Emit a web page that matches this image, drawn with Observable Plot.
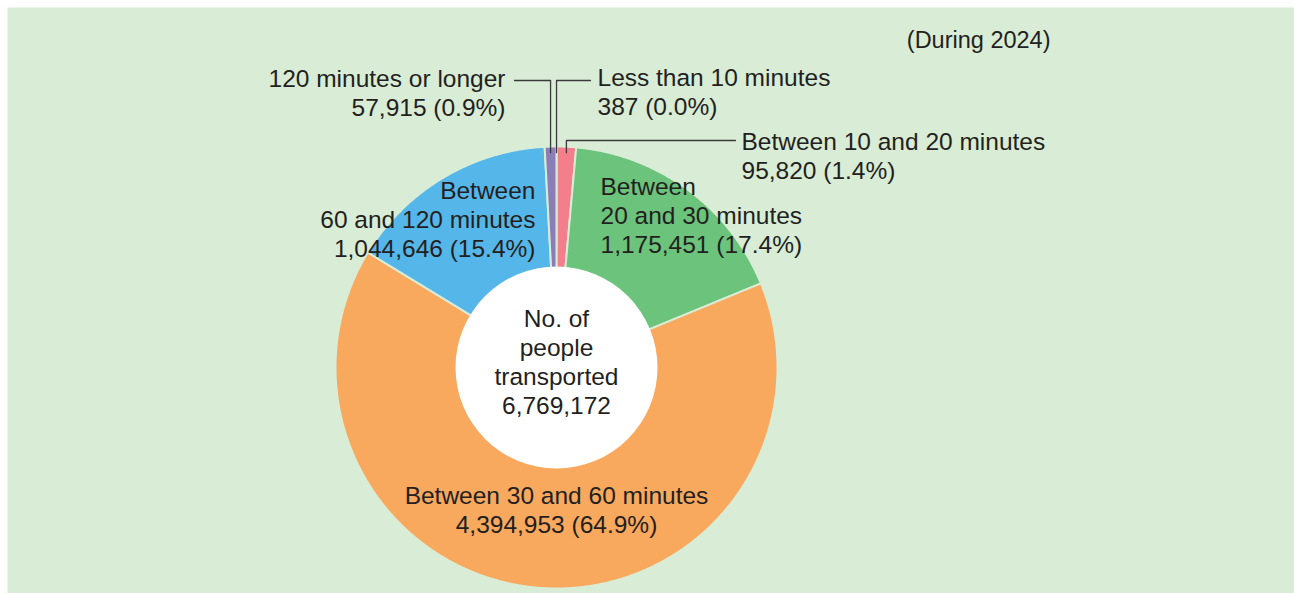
<!DOCTYPE html>
<html><head><meta charset="utf-8">
<script src="https://cdn.jsdelivr.net/npm/d3@7"></script>
<script src="https://cdn.jsdelivr.net/npm/@observablehq/plot@0.6"></script>
<style>body{margin:0;background:#fff;}</style>
</head><body><div id="chart"></div>
<script>
// ---- data ----
const categories = ["Less than 10 minutes","Between 10 and 20 minutes","Between 20 and 30 minutes","Between 30 and 60 minutes","Between 60 and 120 minutes","120 minutes or longer"];
const people = [387, 95820, 1175451, 4394953, 1044646, 57915];
const shares = ["0.0%","1.4%","17.4%","64.9%","15.4%","0.9%"];
const labelLines = [["Less than 10 minutes"],["Between 10 and 20 minutes"],["Between","20 and 30 minutes"],["Between 30 and 60 minutes"],["Between","60 and 120 minutes"],["120 minutes or longer"]];
const centerLines = ["No. of","people","transported"];
const total = 6769172;
const note = "(During 2024)";
const colors = ["#E8546A","#F27F8B","#6BC37C","#F8A95D","#55B6E9","#8B7DB6"];

// ---- layout ----
const W = 1294, H = 593, cx = 556, cy = 367, R = 221, r0 = 101;
const bg = "#D9ECD6", ink = "#231F20";
const fs = 24.5, lh = 1.18;
const labelLayout = [
  {x: 597, y: 91, anchor: "start", leader: {elbowY: 80, endX: 590}},
  {x: 741, y: 154.5, anchor: "start", leader: {elbowY: 140, endX: 735}},
  {x: 600, y: 214, anchor: "start"},
  {x: 556, y: 509, anchor: "middle"},
  {x: 535, y: 218, anchor: "end"},
  {x: 505, y: 92, anchor: "end", leader: {elbowY: 80, endX: 514}}
];

const fmt = d3.format(",");
const arcs = d3.pie().sort(null).value(d => d)(people);

const slicePts = [];
arcs.forEach((a, i) => {
  const span = a.endAngle - a.startAngle;
  const n = Math.max(2, Math.ceil(span / 0.005));
  for (let k = 0; k <= n; k++) {
    const t = a.startAngle + span * k / n;
    slicePts.push({cat: categories[i], x: cx + R * Math.sin(t), y: cy - R * Math.cos(t)});
  }
  for (let k = n; k >= 0; k--) {
    const t = a.startAngle + span * k / n;
    slicePts.push({cat: categories[i], x: cx + (r0 - 6) * Math.sin(t), y: cy - (r0 - 6) * Math.cos(t)});
  }
});

const leaderPts = [];
arcs.forEach((a, i) => {
  const L = labelLayout[i].leader;
  if (!L) return;
  const m = (a.startAngle + a.endAngle) / 2;
  const ex = cx + R * Math.sin(m), ey = cy - (R - 6) * Math.cos(m);
  leaderPts.push({id: i, x: L.endX, y: L.elbowY}, {id: i, x: ex, y: L.elbowY}, {id: i, x: ex, y: ey});
});

const labels = categories.map((c, i) => ({
  x: labelLayout[i].x, y: labelLayout[i].y, anchor: labelLayout[i].anchor,
  text: [...labelLines[i], `${fmt(people[i])} (${shares[i]})`].join("\n")
}));
labels.push({x: cx, y: cy - 6.5, anchor: "middle", text: [...centerLines, fmt(total)].join("\n")});

const textMark = anchor => Plot.text(labels.filter(d => d.anchor === anchor), {
  x: "x", y: "y", text: "text", textAnchor: anchor, lineAnchor: "middle",
  lineHeight: lh, fontSize: fs, fill: ink
});

const chart = Plot.plot({
  width: W, height: H, margin: 0,
  x: {domain: [0, W], range: [0, W], axis: null},
  y: {domain: [0, H], range: [0, H], axis: null},
  color: {domain: categories, range: colors},
  style: {background: "#fff", fontFamily: "'Liberation Sans', Arial, sans-serif"},
  marks: [
    Plot.frame({fill: bg, stroke: "none", insetLeft: 7, insetTop: 7, insetRight: -3, insetBottom: -3}),
    Plot.line(slicePts, {x: "x", y: "y", z: "cat", fill: "cat", stroke: bg, strokeWidth: 2, curve: "linear-closed"}),
    Plot.dot([{x: cx, y: cy}], {x: "x", y: "y", r: r0, fill: "white", stroke: "none"}),
    Plot.line(leaderPts, {x: "x", y: "y", z: "id", stroke: "#3a3a3a", strokeWidth: 1.3}),
    textMark("start"), textMark("end"), textMark("middle"),
    Plot.text([note], {x: () => 1050, y: () => 40, text: d => d, textAnchor: "end", lineAnchor: "middle", fontSize: 23.5, fill: ink})
  ]
});
document.getElementById("chart").append(chart);
</script>
</body></html>
